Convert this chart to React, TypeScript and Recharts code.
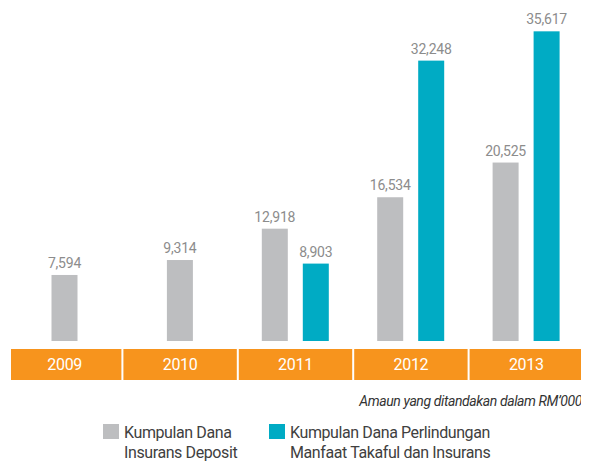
import { BarChart, Bar, XAxis, YAxis } from 'recharts';

// values in RM'000
const years = ['2009', '2010', '2011', '2012', '2013'];
const depositFund = [7594, 9314, 12918, 16534, 20525];
const protectionFund: (number | null)[] = [null, null, 8903, 32248, 35617];

const seriesNames = [
    ['Kumpulan Dana', 'Insurans Deposit'],
    ['Kumpulan Dana Perlindungan', 'Manfaat Takaful dan Insurans'],
];
const note = 'Amaun yang ditandakan dalam RM\u2019000';

const GREY = '#bdbec0';
const TEAL = '#00abc4';
const ORANGE = '#f7941d';
const FONT = "'Roboto', 'Liberation Sans', sans-serif";
const BAR_GAP = 15;
const BAND = 115.4;

const data = years.map((year, i) => ({ year, deposit: depositFund[i], protection: protectionFund[i] }));

const fmt = (v: number) => v.toLocaleString('en-US');

// bar + value label; a lone bar (no partner series) is shifted to the category centre
const BarWithLabel = (props: any) => {
    const { x, y, width, height, fill, payload, dataKey } = props;
    const value = payload[dataKey];
    if (value == null) return null;
    const lone = dataKey === 'deposit' && payload.protection == null;
    const bx = lone ? x + (width + BAR_GAP) / 2 : x;
    return (
        <g>
            <rect x={bx} y={y} width={width} height={height} fill={fill} />
            <text x={bx + width / 2} y={y - 7} textAnchor="middle" fontSize={14} fill="#8c8c8c" fontFamily={FONT}
                letterSpacing={-0.2}>
                {fmt(value)}
            </text>
        </g>
    );
};

const YearTick = (props: any) => {
    const { x, y, payload, index } = props;
    const left = index === 0 ? 11 : x - BAND / 2;
    const right = index === years.length - 1 ? 589 : x + BAND / 2;
    return (
        <g>
            <rect x={left} y={y} width={right - left} height={31} fill={ORANGE} />
            {index > 0 && <rect x={left - 1} y={y} width={2} height={31} fill="#fff" />}
            <text x={x} y={y + 21} textAnchor="middle" fontSize={16} fill="#fff" fontFamily={FONT} letterSpacing={-0.3}>
                {payload.value}
            </text>
        </g>
    );
};

const LegendBox = () => (
    <div style={{ position: 'relative', width: 589, height: 80, fontFamily: FONT, letterSpacing: '-0.4px' }}>
        <div style={{ position: 'absolute', right: 5, top: 12, fontSize: 14, fontStyle: 'italic', color: '#333', whiteSpace: 'nowrap', paddingRight: 2 }}>{note}</div>
        {[{ color: GREY, left: 103, lines: seriesNames[0] }, { color: TEAL, left: 269, lines: seriesNames[1] }].map(item => (
            <div key={item.lines[0]} style={{ position: 'absolute', left: item.left, top: 42, display: 'flex' }}>
                <div style={{ width: 16, height: 15, background: item.color, marginTop: 1 }} />
                <div style={{ marginLeft: 5, fontSize: 16, lineHeight: '20px', color: '#404040', textAlign: 'left', whiteSpace: 'nowrap' }}>
                    {item.lines.map(l => <div key={l}>{l}</div>)}
                </div>
            </div>
        ))}
    </div>
);

export default function App() {
    return (
        <div style={{ margin: '-8px 0 0 -8px', width: 589, height: 461 }}>
            <BarChart width={589} height={381} data={data} margin={{ top: 28, right: 5, left: 7, bottom: 0 }}
                barCategoryGap={24} barGap={BAR_GAP}>
                <XAxis dataKey="year" tickLine={false} axisLine={false} height={40} interval={0} tick={<YearTick />} />
                <YAxis hide domain={[0, 36000]} />
                <Bar dataKey="deposit" fill={GREY} barSize={26} shape={<BarWithLabel />} isAnimationActive={false} />
                <Bar dataKey="protection" fill={TEAL} barSize={26} shape={<BarWithLabel />} isAnimationActive={false} />
            </BarChart>
            <LegendBox />
        </div>
    );
}
